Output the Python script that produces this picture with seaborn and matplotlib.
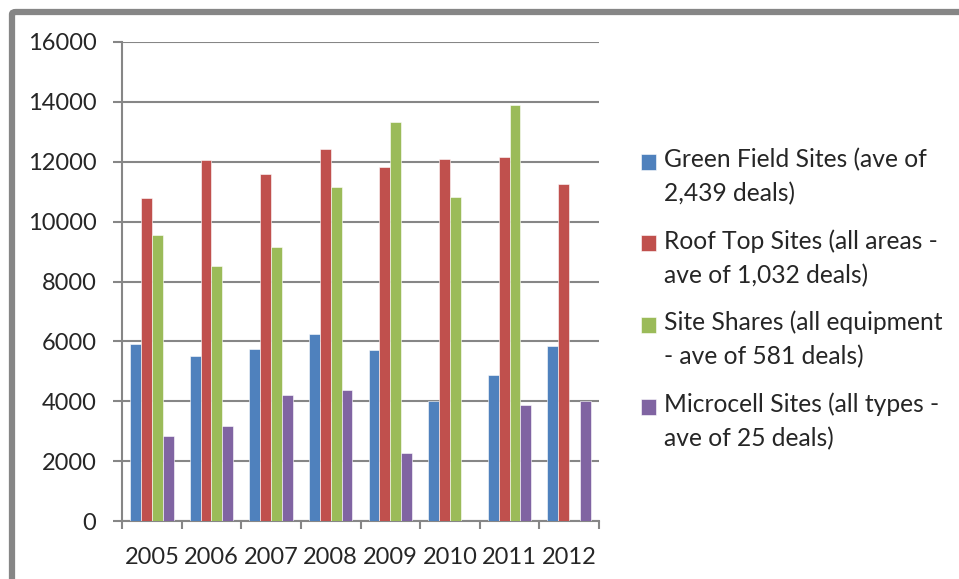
import matplotlib
matplotlib.use("Agg")
import matplotlib.pyplot as plt
import seaborn as sns
import pandas as pd
import numpy as np
from matplotlib.patches import FancyBboxPatch

# Values
years = ["2005", "2006", "2007", "2008", "2009", "2010", "2011", "2012"]
green_field = [5910, 5510, 5740, 6230, 5720, 4000, 4880, 5840]
roof_top = [10800, 12050, 11580, 12430, 11840, 12090, 12150, 11260]
site_shares = [9550, 8520, 9160, 11170, 13330, 10810, 13880, np.nan]
microcell = [2850, 3170, 4210, 4370, 2280, np.nan, 3870, 4000]

series_names = [
    "Green Field Sites (ave of\n2,439 deals)",
    "Roof Top Sites (all areas -\nave of 1,032 deals)",
    "Site Shares (all equipment\n- ave of 581 deals)",
    "Microcell Sites (all types -\nave of 25 deals)",
]
colors = ["#4F81BD", "#C0504D", "#9BBB59", "#8064A2"]

# long form table for seaborn
rows = []
for name, vals in zip(series_names, [green_field, roof_top, site_shares, microcell]):
    for yr, v in zip(years, vals):
        rows.append({"year": yr, "series": name, "value": v})
df = pd.DataFrame(rows)

sns.set_style("white")
plt.rcParams["font.family"] = ["Lato", "DejaVu Sans"]
grey = "#868686"

fig = plt.figure(figsize=(9.59, 5.79), dpi=100)
ax = fig.add_axes([122 / 959, 1 - 521 / 579, (599 - 122) / 959, (521 - 42) / 579])

sns.barplot(data=df, x="year", y="value", hue="series", order=years,
            hue_order=series_names, palette=colors, width=0.73,
            errorbar=None, saturation=1, ax=ax, zorder=3,
            edgecolor="#ffffff", linewidth=0.4)

ax.set_xlim(-0.5, 7.5)
ax.set_ylim(0, 16000)
ax.set_yticks(range(0, 16001, 2000))
ax.set_xlabel("")
ax.set_ylabel("")

# grid and spines like the spreadsheet chart
ax.set_axisbelow(True)
ax.yaxis.grid(True, color=grey, linewidth=1.5)
ax.xaxis.grid(False)
for s in ["top", "right"]:
    ax.spines[s].set_visible(False)
for s in ["left", "bottom"]:
    ax.spines[s].set_color(grey)
    ax.spines[s].set_linewidth(1.5)

ax.tick_params(axis="y", which="major", left=True, length=6.5, width=1.5,
               color=grey, pad=12, labelsize=17)
ax.tick_params(axis="x", which="major", bottom=False, pad=15, labelsize=17)
ax.set_xticks(np.arange(-0.5, 8, 1), minor=True)
ax.tick_params(axis="x", which="minor", bottom=True, length=6, width=1.5,
               color=grey)

# legend to the right, square at the first line of each entry
leg = ax.legend(loc="center left", bbox_to_anchor=(641 / 959, 1 - 299 / 579),
                bbox_transform=fig.transFigure, frameon=False, fontsize=17.7,
                borderpad=0, borderaxespad=0, handlelength=0.62,
                handleheight=0.62, handletextpad=0.3, labelspacing=0.96)
for t in leg.get_texts():
    t.set_linespacing(1.58)
for h in leg.legend_handles:
    h.set_y(h.get_y() + 11.2)

# outer chart frame (cropped)
frame = FancyBboxPatch((12 / 959, -0.1), 1.2, 1 - 12 / 579 + 0.1,
                       boxstyle="round,pad=0,rounding_size=0.004",
                       transform=fig.transFigure, fill=False,
                       edgecolor=grey, linewidth=4.5, clip_on=False)
fig.patches.append(frame)

fig.savefig("out.png", dpi=100)
